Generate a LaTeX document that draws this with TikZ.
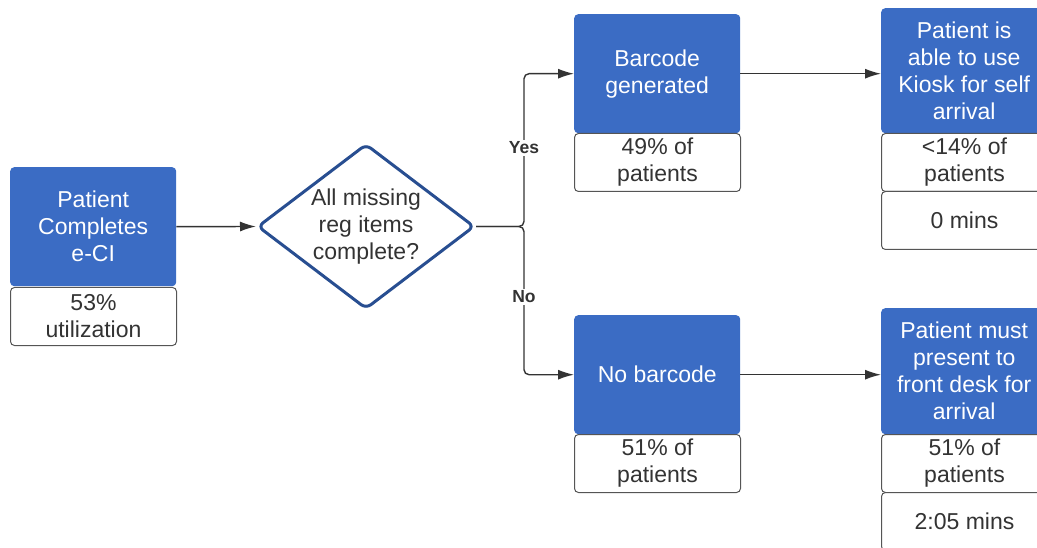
\documentclass[tikz,border=0pt]{standalone}
\usepackage{fontspec}
\setmainfont{Liberation Sans}
\usetikzlibrary{shapes.geometric,arrows.meta}
\definecolor{bblue}{RGB}{59,108,196}
\definecolor{dblue}{RGB}{40,78,145}
\definecolor{txt}{RGB}{51,51,51}
\definecolor{edgec}{RGB}{85,85,85}
\begin{document}
\begin{tikzpicture}[x=1pt,y=-1pt,
  bigfont/.style={font=\fontsize{23}{27}\selectfont},
  bluebox/.style={bigfont, fill=bblue, text=white, rounded corners=4pt, minimum width=166pt, minimum height=119pt, anchor=north west, align=center, inner sep=2pt},
  infobox/.style={bigfont, draw=edgec, line width=1pt, fill=white, text=txt, rounded corners=4pt, minimum width=166pt, minimum height=58pt, anchor=north west, align=center, inner sep=2pt},
  arr/.style={draw=txt, line width=1.4pt, -{Latex[length=16pt,width=10pt]}},
  lab/.style={fill=white, font=\bfseries\fontsize{17.5}{19}\selectfont, text=txt, inner sep=2pt}]
\useasboundingbox (0,0) rectangle (1037,548);
% left column
\node[bluebox] (b0) at (10,167) {Patient\\Completes\\e-CI};
\node[infobox] (i0) at (10,287) {53\%\\utilization};
% decision
\node[diamond, draw=dblue, line width=3pt, rounded corners=6pt, minimum width=217pt, minimum height=165pt, inner sep=0pt, aspect=1.32, text=txt, align=center, bigfont] (d) at (366,226.5) {All missing\\reg items\\complete?};
% middle column
\node[bluebox] (b1) at (574,14) {Barcode\\generated};
\node[infobox] (i1) at (574,133) {49\% of\\patients};
\node[bluebox] (b2) at (574,315) {No barcode};
\node[infobox] (i2) at (574,434) {51\% of\\patients};
% right column
\node[bluebox, minimum height=125pt] (k) at (881,8) {Patient is\\able to use\\Kiosk for self\\arrival};
\node[infobox] (k1) at (881,133) {<14\% of\\patients};
\node[infobox] (k2) at (881,191) {0 mins};
\node[bluebox, minimum height=126pt] (f) at (881,308) {Patient must\\present to\\front desk for\\arrival};
\node[infobox] (f1) at (881,434) {51\% of\\patients};
\node[infobox] (f2) at (881,492) {2:05 mins};
% connectors
\coordinate (j) at (524,226.5);
\draw[arr] (b0.east) -- (d.west);
\draw[arr, rounded corners=5pt] (d.east) -- (j) |- (b1.west);
\draw[arr, rounded corners=5pt] (d.east) -- (j) |- (b2.west);
\draw[arr] (b1.east) -- (b1.east -| k.west);
\draw[arr] (b2.east) -- (b2.east -| f.west);
\node[lab] (yes) at (524,148) {Yes};
\node[lab] (no) at (524,297) {No};
\end{tikzpicture}
\end{document}
